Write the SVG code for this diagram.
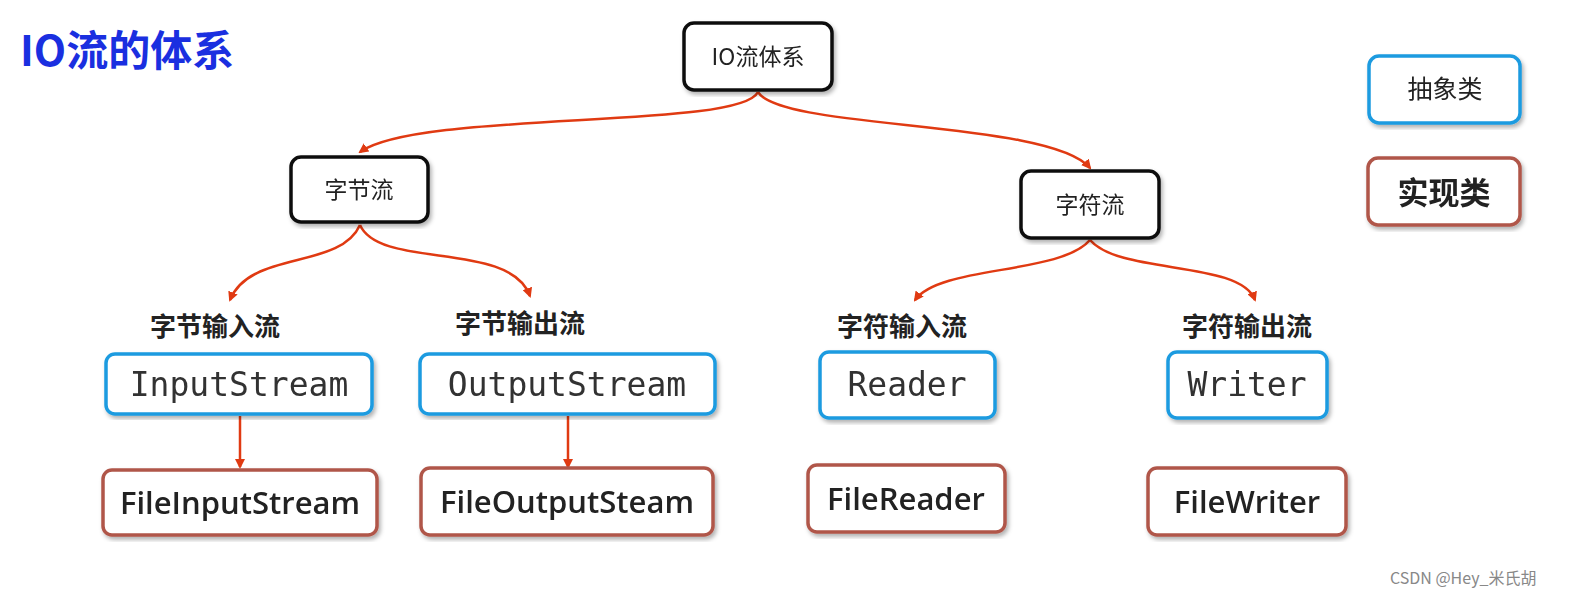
<svg xmlns="http://www.w3.org/2000/svg" width="1595" height="606" viewBox="0 0 1595 606">
<style>
.box{fill:#fff;stroke-width:3.5}
.blk{stroke:#111}
.abs{stroke:#1e9be0}
.imp{stroke:#b0574a}
.cn{font-family:"Noto Sans CJK SC","Noto Sans",sans-serif;fill:#222;text-anchor:middle}
.mono{font-family:"DejaVu Sans Mono","Liberation Mono",monospace;font-size:33px;fill:#333;text-anchor:middle}
.sans{font-family:"Open Sans","Liberation Sans",sans-serif;font-size:31px;font-weight:600;fill:#222;text-anchor:middle}
.lbl{font-family:"Noto Sans CJK SC",sans-serif;font-size:26px;font-weight:bold;fill:#222;text-anchor:middle}
.arr{fill:none;stroke:#e03a12;stroke-width:2.5;marker-end:url(#ah)}
</style>
<defs>
<marker id="ah" markerWidth="10" markerHeight="10" refX="8" refY="5" orient="auto" markerUnits="userSpaceOnUse"><path d="M0,0 L10,5 L0,10 z" fill="#e03a12"/></marker>
<filter id="sh"><feDropShadow dx="2" dy="3" stdDeviation="2" flood-opacity="0.3"/></filter>
</defs>
<rect width="1595" height="606" fill="#fff"/>
<text x="20" y="66" font-family="Noto Sans CJK SC,sans-serif" font-size="42" fill="#1a2fe0" font-weight="bold">IO流的体系</text>
<g id="connectors">
<path class="arr" d="M758,92 C740,130 420,110 360,152"/>
<path class="arr" d="M758,92 C780,130 1050,120 1090,168"/>
<path class="arr" d="M360,225 C340,270 250,250 230,300"/>
<path class="arr" d="M360,225 C380,270 510,240 530,296"/>
<path class="arr" d="M1090,240 C1060,275 940,265 915,300"/>
<path class="arr" d="M1090,240 C1120,275 1240,260 1255,300"/>
<path class="arr" d="M240,416 L240,467"/>
<path class="arr" d="M568,416 L568,467"/>
</g>
<g id="io" filter="url(#sh)"><rect class="box blk" x="684" y="23" width="148" height="67" rx="10"/><text class="cn" x="758" y="65" font-size="23">IO流体系</text></g>
<g id="byte" filter="url(#sh)"><rect class="box blk" x="291" y="157" width="137" height="65" rx="10"/><text class="cn" x="359" y="198" font-size="23">字节流</text></g>
<g id="char" filter="url(#sh)"><rect class="box blk" x="1021" y="171" width="138" height="67" rx="10"/><text class="cn" x="1090" y="213" font-size="23">字符流</text></g>
<g id="legend-abs" filter="url(#sh)"><rect class="box abs" x="1369" y="56" width="151" height="67" rx="10"/><text class="cn" x="1445" y="98" font-size="25">抽象类</text></g>
<g id="legend-imp" filter="url(#sh)"><rect class="box imp" x="1368" y="158" width="152" height="67" rx="10"/><text class="cn" x="1444" y="204" font-size="31" font-weight="bold">实现类</text></g>
<text class="lbl" x="215" y="336">字节输入流</text>
<text class="lbl" x="520" y="333">字节输出流</text>
<text class="lbl" x="902" y="336">字符输入流</text>
<text class="lbl" x="1247" y="336">字符输出流</text>
<g id="inputstream" filter="url(#sh)"><rect class="box abs" x="106" y="354" width="266" height="60" rx="9"/><text class="mono" x="239" y="396">InputStream</text></g>
<g id="outputstream" filter="url(#sh)"><rect class="box abs" x="420" y="354" width="295" height="60" rx="9"/><text class="mono" x="567" y="396">OutputStream</text></g>
<g id="reader" filter="url(#sh)"><rect class="box abs" x="820" y="352" width="175" height="66" rx="9"/><text class="mono" x="907" y="396">Reader</text></g>
<g id="writer" filter="url(#sh)"><rect class="box abs" x="1168" y="352" width="159" height="66" rx="9"/><text class="mono" x="1247" y="396">Writer</text></g>
<g id="fileinputstream" filter="url(#sh)"><rect class="box imp" x="103" y="470" width="274" height="65" rx="9"/><text class="sans" x="240" y="514">FileInputStream</text></g>
<g id="fileoutputsteam" filter="url(#sh)"><rect class="box imp" x="421" y="468" width="292" height="67" rx="9"/><text class="sans" x="567" y="513">FileOutputSteam</text></g>
<g id="filereader" filter="url(#sh)"><rect class="box imp" x="808" y="465" width="197" height="67" rx="9"/><text class="sans" x="906" y="510">FileReader</text></g>
<g id="filewriter" filter="url(#sh)"><rect class="box imp" x="1148" y="468" width="198" height="67" rx="9"/><text class="sans" x="1247" y="513">FileWriter</text></g>
<text x="1390" y="584" font-family="Noto Sans CJK SC,sans-serif" font-size="16" fill="#888">CSDN @Hey_米氏胡</text>
</svg>
